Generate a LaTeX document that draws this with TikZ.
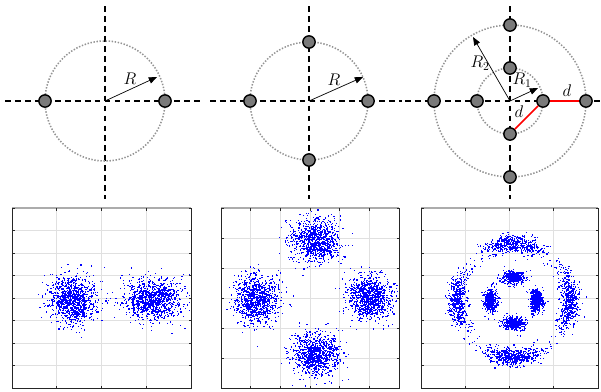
\documentclass[tikz,border=0pt]{standalone}
\usepackage{amsmath,amssymb}
\usepackage{xcolor}
\usepackage{tikz}
\usetikzlibrary{arrows.meta}
\tikzstyle{axis}=[
line width=1.5pt,
dash pattern=on 5pt off 3.5pt
]
\tikzstyle{ring}=[
gray!85,
line width=1.3pt,
dash pattern=on 1.2pt off 1.4pt
]
\tikzstyle{sym}=[
circle,
draw=black,
fill=black!52,
line width=1.2pt,
minimum size=0.37cm,
inner sep=0pt
]
\tikzstyle{radius}=[
line width=0.6pt,
-{Triangle[length=7pt,width=5.5pt]}
]
\tikzstyle{dist}=[
red,
line width=1.3pt
]
\tikzstyle{lbl}=[
font=\Large
]
\tikzstyle{gridline}=[
black!12,
line width=0.7pt
]
\tikzstyle{frame}=[
black!85,
line width=0.8pt
]
\tikzstyle{pt}=[
blue
]
\newcommand\cloud[5]{%
\foreach \k in {1,...,#5}{
\pgfmathsetmacro\gm{sqrt(-2*ln(max(rnd,0.0005)))}
\pgfmathsetmacro\gv{360*rnd}
\pgfmathsetmacro\gx{#1+#3*\gm*cos(\gv)}
\pgfmathsetmacro\gy{#2+#4*\gm*sin(\gv)}
\fill[pt] (\gx,\gy) rectangle ++(1.2,1.2);
}}
\newcommand\arccloud[7]{%
\foreach \k in {1,...,#7}{
\pgfmathsetmacro\gm{sqrt(-2*ln(max(rnd,0.0005)))}
\pgfmathsetmacro\gv{360*rnd}
\pgfmathsetmacro\ga{#5+#6*\gm*cos(\gv)}
\pgfmathsetmacro\gr{#3+#4*\gm*sin(\gv)}
\fill[pt] ({#1+\gr*cos(\ga)},{#2-\gr*sin(\ga)}) rectangle ++(1.2,1.2);
}}
\newcommand\plotbox[6]{%
\foreach \i in {1,...,#5}{
\draw[gridline] ({#1+\i*(#3-#1)/#5},#2) -- ({#1+\i*(#3-#1)/#5},#4);
}
\foreach \j in {1,...,#6}{
\draw[gridline] (#1,{#2+\j*(#4-#2)/#6}) -- (#3,{#2+\j*(#4-#2)/#6});
}
}
\newcommand\plotframe[6]{%
\draw[gray!65,line width=1pt] (#1,#2) -- (#3,#2);
\draw[frame] (#1,#2) -- (#1,#4) -- (#3,#4) -- (#3,#2);
\foreach \i in {0,...,#5}{
\draw[frame] ({#1+\i*(#3-#1)/#5},#2) -- ++(0,2.5);
\draw[frame] ({#1+\i*(#3-#1)/#5},#4) -- ++(0,-2.5);
}
\foreach \j in {0,...,#6}{
\draw[frame] (#1,{#2+\j*(#4-#2)/#6}) -- ++(2.5,0);
\draw[frame] (#3,{#2+\j*(#4-#2)/#6}) -- ++(-2.5,0);
}
}

\begin{document}
\begin{tikzpicture}[x=0.03cm,y=-0.03cm]
\useasboundingbox (0,0) rectangle (601,391);
\pgfmathsetseed{11}

% constellation: two points
\coordinate (o1) at (105,101);
\draw[axis] (5,101) -- (200,101);
\draw[axis] (105,6) -- (105,199);
\draw[ring] (o1) circle (60);
\node[sym] (a1) at (45,101) {};
\node[sym] (a2) at (165,101) {};
\coordinate (r1) at (157,77);
\draw[radius] (o1) -- (r1);
\node[lbl] at (130,79) {$R$};

% constellation: four points
\coordinate (o2) at (309,101);
\draw[axis] (210,101) -- (402,101);
\draw[axis] (309,6) -- (309,199);
\draw[ring] (o2) circle (59);
\node[sym] (b1) at (368,101) {};
\node[sym] (b2) at (309,42) {};
\node[sym] (b3) at (250,101) {};
\node[sym] (b4) at (309,160) {};
\coordinate (r2) at (363,77);
\draw[radius] (o2) -- (r2);
\node[lbl] at (334,80) {$R$};

% constellation: two rings
\coordinate (o3) at (510,101);
\draw[axis] (405,101) -- (601,101);
\draw[axis] (510,6) -- (510,199);
\draw[ring] (o3) circle (33);
\draw[ring] (o3) circle (76);
\node[sym] (c1) at (543,101) {};
\node[sym] (c2) at (510,68) {};
\node[sym] (c3) at (477,101) {};
\node[sym] (c4) at (510,134) {};
\node[sym] (d1) at (586,101) {};
\node[sym] (d2) at (510,25) {};
\node[sym] (d3) at (434,101) {};
\node[sym] (d4) at (510,177) {};
\coordinate (r3) at (473,37);
\coordinate (r4) at (538,88);
\draw[radius] (o3) -- (r3);
\draw[radius] (o3) -- (r4);
\node[lbl] at (480,63) {$R_2$};
\node[lbl] at (522,80) {$R_1$};
\draw[dist] (c1) -- (c4);
\draw[dist] (c1) -- (d1);
\node[lbl] at (519,112) {$d$};
\node[lbl] at (567,91) {$d$};

% received samples
\plotbox{12}{208}{191}{388}{4}{8}
\begin{scope}
\clip (12,208) rectangle (191,388);
\cloud{73}{299}{11.5}{12}{1000}
\cloud{153}{299}{14}{10.5}{1000}
\end{scope}
\plotframe{12}{208}{191}{388}{4}{8}

\plotbox{221}{208}{399}{388}{6}{6}
\begin{scope}
\clip (221,208) rectangle (399,388);
\cloud{316}{240}{11.5}{10.5}{950}
\cloud{256}{299}{11}{12}{950}
\cloud{369}{298}{11}{11}{950}
\cloud{315}{354}{12}{10.5}{950}
\end{scope}
\plotframe{221}{208}{399}{388}{6}{6}

\plotbox{421}{208}{598}{388}{4}{8}
\begin{scope}
\clip (421,208) rectangle (598,388);
\arccloud{513}{300}{23.5}{3.3}{0}{14}{420}
\arccloud{513}{300}{23.5}{3.3}{90}{14}{420}
\arccloud{513}{300}{23.5}{3.3}{180}{14}{420}
\arccloud{513}{300}{23.5}{3.3}{270}{14}{420}
\arccloud{513}{300}{57}{4.3}{0}{16}{520}
\arccloud{513}{300}{57}{4.3}{90}{16}{520}
\arccloud{513}{300}{57}{4.3}{180}{16}{520}
\arccloud{513}{300}{57}{4.3}{270}{16}{520}
\end{scope}
\plotframe{421}{208}{598}{388}{4}{8}

\end{tikzpicture}
\end{document}
